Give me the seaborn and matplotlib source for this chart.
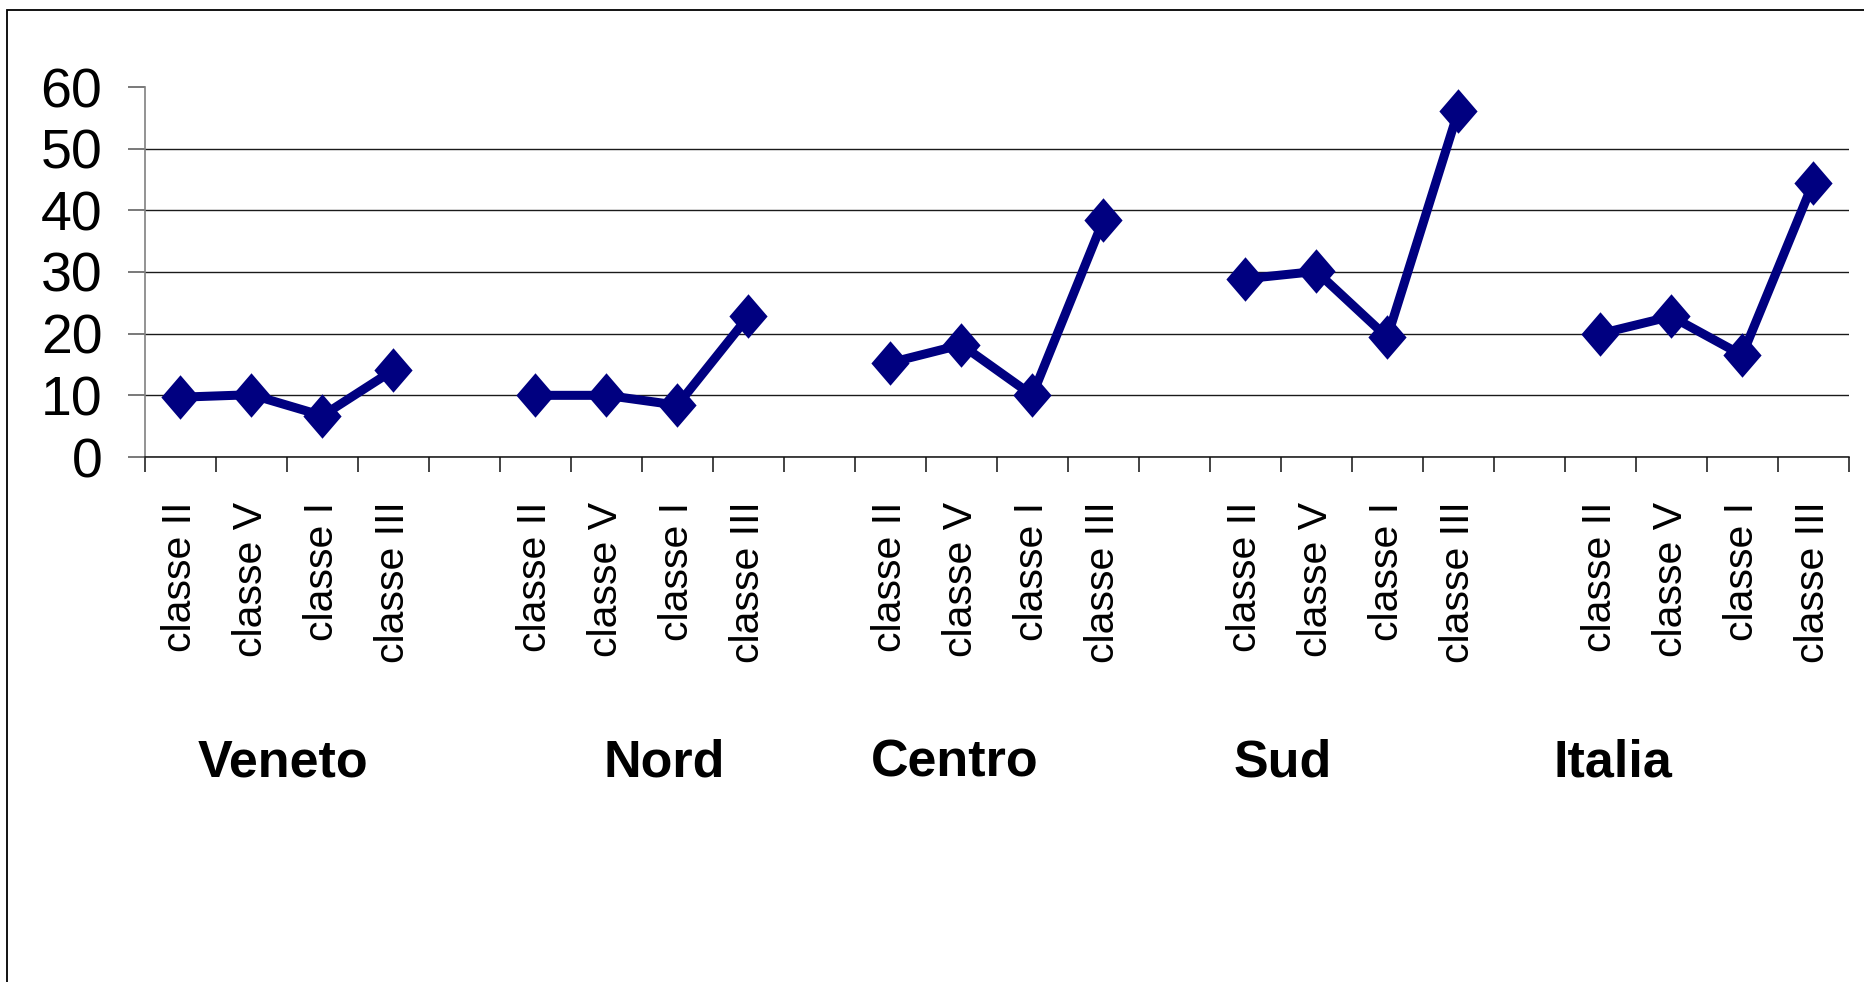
import matplotlib
matplotlib.use("Agg")
import matplotlib.pyplot as plt
from matplotlib.patches import Rectangle
from matplotlib.ticker import FixedLocator, NullFormatter, FixedFormatter
import matplotlib.transforms as mtransforms
import pandas as pd
import seaborn as sns

groups = ["Veneto", "Nord", "Centro", "Sud", "Italia"]
classes = ["classe II", "classe V", "classe I", "classe III"]
veneto = [9.7, 10.1, 6.7, 14.1]
nord = [10.0, 10.0, 8.4, 22.8]
centro = [15.3, 18.2, 10.0, 38.4]
sud = [28.9, 30.1, 19.4, 56.1]
italia = [20.0, 22.8, 16.5, 44.5]
y_ticks = [0, 10, 20, 30, 40, 50, 60]

navy = "#000080"

sns.set_style("white")
plt.rcParams['font.family'] = ['Liberation Sans', 'DejaVu Sans']
plt.rcParams['text.color'] = 'black'
plt.rcParams['xtick.labelcolor'] = 'black'
plt.rcParams['ytick.labelcolor'] = 'black'

# one row per point, an empty slot between the groups
rows = []
for g, (name, vals) in enumerate(zip(groups, [veneto, nord, centro, sud, italia])):
    for k, (cl, v) in enumerate(zip(classes, vals)):
        rows.append({"region": name, "classe": cl, "slot": g * (len(classes) + 1) + k, "value": v})
df = pd.DataFrame(rows)
n_slots = len(groups) * (len(classes) + 1) - 1

fig = plt.figure(figsize=(18.64, 9.82), dpi=100)
fig.set_facecolor("white")
ax = fig.add_axes([145 / 1864, 1 - 457 / 982, (1848.7 - 145) / 1864, 370 / 982])

diamond = [(0, 1), (0.86, 0), (0, -1), (-0.86, 0), (0, 1)]
sns.lineplot(data=df, x="slot", y="value", units="region", estimator=None, sort=False,
             color=navy, linewidth=6.5, marker=diamond, markersize=32,
             markeredgewidth=0, markerfacecolor=navy, ax=ax, legend=False)

ax.set_xlim(-0.5, n_slots - 0.5)
ax.set_ylim(0, 60)
ax.set_xlabel("")
ax.set_ylabel("")

# boundaries carry the tick marks, centers carry the labels
ax.xaxis.set_major_locator(FixedLocator([i - 0.5 for i in range(n_slots + 1)]))
ax.xaxis.set_major_formatter(NullFormatter())
ax.xaxis.set_minor_locator(FixedLocator(df["slot"].tolist()))
ax.xaxis.set_minor_formatter(FixedFormatter(df["classe"].tolist()))
ax.tick_params(axis="x", which="major", direction="out", length=10.5, width=1.1,
               color="#111111", bottom=True)
ax.tick_params(axis="x", which="minor", length=0, pad=32, labelsize=29.5,
               labelrotation=90, bottom=True)

ax.set_yticks(y_ticks)
ax.tick_params(axis="y", direction="out", length=12.2, width=1.1, color="#555555",
               pad=18.5, labelsize=40, left=True)

ax.yaxis.grid(True, color="#1a1a1a", linewidth=1.0)
ax.get_ygridlines()[-1].set_visible(False)
ax.set_axisbelow(True)

for side in ["top", "right"]:
    ax.spines[side].set_visible(False)
ax.spines["left"].set_color("#808080")
ax.spines["left"].set_linewidth(1.2)
ax.spines["bottom"].set_color("#111111")
ax.spines["bottom"].set_linewidth(1.1)

# group names under the class labels
group_x = [1.44, 6.81, 10.90, 15.53, 20.18]
trans = mtransforms.blended_transform_factory(ax.transData, ax.transAxes)
for name, gx in zip(groups, group_x):
    ax.text(gx, -0.826, name, transform=trans, ha="center", va="center",
            fontsize=37.5, fontweight="bold", color="black")

# outer chart frame
fig.patches.append(Rectangle((7 / 1864, -0.1), 1.2, 1.1 - 10 / 982, transform=fig.transFigure,
                             fill=False, edgecolor="black", linewidth=1.3))

fig.savefig("out.png", dpi=100, facecolor="white")
plt.close(fig)
